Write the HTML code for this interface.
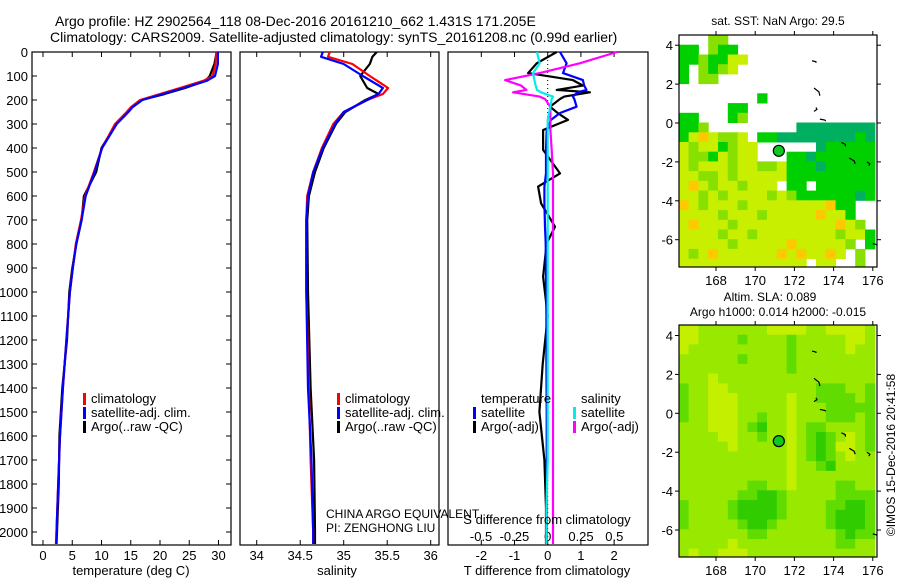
<!DOCTYPE html>
<html><head><meta charset="utf-8"><style>
body{margin:0;background:#fff;}
svg{display:block;font-family:"Liberation Sans",Arial,sans-serif;}
</style></head><body>
<svg id="fig" width="900" height="580" viewBox="0 0 900 580" xmlns="http://www.w3.org/2000/svg">
<rect width="900" height="580" fill="#fff"/>
<text x="55" y="26" font-size="14">Argo profile: HZ 2902564_118 08-Dec-2016 20161210_662 1.431S 171.205E</text>
<text x="50" y="42" font-size="14">Climatology: CARS2009. Satellite-adjusted climatology: synTS_20161208.nc (0.99d earlier)</text>
<g id="g"></g>
</svg>
<script>
// ---- profile data ----
const depthT = [0,50,100,120,150,175,200,230,250,300,400,500,600,700,800,900,1000,1200,1400,1600,1800,2000,2050];
const tempClim = [29.6,29.5,29.0,27.4,23.4,20.0,16.6,15.0,14.3,12.3,10.1,8.7,7.2,6.5,5.6,5.1,4.6,4.0,3.4,2.9,2.6,2.3,2.2];
const tempSat  = [29.9,29.9,29.4,28.0,24.0,20.5,17.0,15.3,14.6,12.6,10.1,8.8,7.3,6.6,5.7,5.1,4.6,4.0,3.4,2.9,2.6,2.3,2.3];
const tempArgo = [29.7,29.3,28.5,27.8,24.3,20.8,16.8,15.1,14.5,12.5,10.0,9.1,7.0,6.6,5.7,5.0,4.5,4.1,3.3,2.8,2.7,2.4,2.3];
const depthS = [0,20,50,100,150,175,200,250,300,400,500,600,700,1000,1400,1700,2000,2050];
const salClim = [34.84,34.82,35.1,35.3,35.51,35.45,35.27,35.0,34.88,34.75,34.65,34.58,34.57,34.57,34.6,34.62,34.65,34.65];
const salSat  = [34.76,34.74,35.0,35.22,35.45,35.4,35.27,35.0,34.9,34.76,34.65,34.59,34.57,34.57,34.59,34.63,34.65,34.65];
const salArgo = [35.38,35.33,35.3,35.19,35.27,35.4,35.25,35.02,34.91,34.77,34.67,34.6,34.58,34.59,34.62,34.66,34.67,34.67];
const depthD = [0,47,88,117,140,158,168,186,196,228,254,283,325,408,506,561,631,728,797,936,1100,1300,1500,1700,1900,2050];
const dTsat  = [0.37,0.57,0.46,1.06,1.1,1.17,0.9,0.76,0.8,0.87,0.37,0.1,-0.03,-0.05,-0.05,-0.1,-0.1,-0.08,-0.06,-0.05,-0.04,-0.04,-0.03,-0.03,-0.03,-0.03];
const dTargo = [0.27,-0.33,-0.59,0.76,1.06,0.27,1.27,0.5,0.37,0.07,0.3,0.61,-0.14,-0.14,0.37,-0.29,-0.2,0.22,-0.03,-0.14,0.0,-0.15,-0.25,-0.1,-0.05,-0.05];
const dSsat  = [-0.08,-0.06,-0.11,-0.1,-0.09,-0.08,-0.05,0.04,0.03,0.02,0.01,0.0,0.0,0.0,0.0,0.0,0.0,0.0,0.0,0.0,0.0,0.0,0.0,0.0,-0.01,-0.01];
const dSargo = [0.52,0.24,-0.06,-0.32,-0.2,-0.16,-0.26,-0.06,-0.02,0.02,0.02,0.02,0.02,0.03,0.04,0.04,0.04,0.04,0.04,0.04,0.04,0.04,0.04,0.04,0.04,0.04];
const depthTicks = [0,100,200,300,400,500,600,700,800,900,1000,1100,1200,1300,1400,1500,1600,1700,1800,1900,2000];
const tempTicks = [0,5,10,15,20,25,30];
const salTicks = [34,34.5,35,35.5,36];
const tdTicks = [-2,-1,0,1,2];
const sdTicks = [-0.5,-0.25,0,0.25,0.5];
// ---- map data ----
const latTicks = [4,2,0,-2,-4,-6];
const lonTicks = [168,170,172,174,176];
const sstGrid = [
"...ll...............","gg.lgg..............","gglggyy.............","g.lgly..............","g.ll................",
"....................","........g...........",".....gg.............","gg...gl.............","ggl.........tttttttt",
"gyoylly.ggttttttttgt","ylyyglyy......tggggg","yllgylyy...ggtgggggg","ylyyylyyllygggtggggg","yyllylyyyyyggggggggg",
"yoylyylyyy.gg.gggggg","yylylyyyylylggggggtg","oylyyylyyyyyyyyogg..","yyyylyyylyyyyyoyyg..","yoyyylyyyyyyyyyyoyl.",
"yyyylyylyyyyyyyylyyg","yyyyylyyyyyoyyyyyl.g","ylyoyyyyyyoyoyyoy.l.","yyyyyyyyyyyyy.yy..l."];
const slaGrid = [
"aabbbbbbbaaaabbaaaab","aabbbbcbbbbcbbbbbaab","abbbbbbbbbbcbbbbbabb","bbbbbbcbbbbcbbbbbbbb","bbbbbbbbbbbcbbbbbbbb",
"bbbabbbbbbbbbbbbbbbb","cbbaabbbbbbbbbcccbbc","cbbaaabbbbbabbccccbc","cbbaaabbbbbabbbccccc","cbbaaabbcbbabbbcccbc",
"bbbaaabcdbbabccbbbbc","bbbbaabbcbbabcdcbabc","bbbbbabbbbbabcdcaabc","bbbbbbbbbbbabcdcbabb","bbbbbbbbbbbabbcdbbbb",
"bbbbbbbbbbbabbbbbbbb","bbbbbbbccbbabbbbccbb","bbbbbbccddcbbbbbcccc","cbbbbcddddcbbbbccddc","cbbbbcddddcbbbbcdddc",
"cbbbbbcddcbbbbbcdddc","bbbbbbbccbbbbbbbcdcc","bbbbbabbbbbbbbbbccbb","babbaaabbbbbbbbbbbbb"];
const argoLon = 171.205, argoLat = -1.431;

const NS="http://www.w3.org/2000/svg";
const G=document.getElementById('g');
function mk(tag,attrs,parent){const e=document.createElementNS(NS,tag);for(const k in attrs)e.setAttribute(k,attrs[k]);(parent||G).appendChild(e);return e;}
function txt(x,y,s,size,anchor,parent){const t=mk('text',{x:x,y:y,'font-size':size||13,'text-anchor':anchor||'start'},parent);t.textContent=s;return t;}

const TOP=52,BOT=545;
const yD=d=>TOP+d*0.24;
const xT=v=>43+v*5.85;
const xS=v=>256.7+(v-34)*87;
const xTd=v=>547.7+v*33.2;
const xSd=v=>547.7+v*133.2;

function panel(name,L,R){
  const r=mk('rect',{x:L,y:TOP,width:R-L,height:BOT-TOP,fill:'none',stroke:'#000','stroke-width':1.2});
  
  
}
function line(name,xs,ds,xf,color){
  const p=xs.map((v,i)=>xf(v).toFixed(1)+','+yD(ds[i]).toFixed(1)).join(' ');
  const e=mk('polyline',{points:p,fill:'none',stroke:color,'stroke-width':2.2,'stroke-linejoin':'round'});
  
  
}
function xticks(ticks,f,y,labelY,fmt){
  ticks.forEach(t=>{const x=f(t);
    mk('line',{x1:x,x2:x,y1:TOP,y2:TOP+5,stroke:'#000'});
    mk('line',{x1:x,x2:x,y1:BOT,y2:BOT-5,stroke:'#000'});
    const l=txt(x,labelY,fmt?fmt(t):String(t),13,'middle');
    
    
  });
}
function legend(x,y,items){
  items.forEach((it,i)=>{
    mk('rect',{x:x,y:y+i*14-10,width:3,height:12,fill:it[1]});
    const l=txt(x+8,y+i*14,it[0],13);
    
    
  });
}

// Panel 1 temperature
panel('temperature-panel',32,231);
depthTicks.forEach(d=>{const y=yD(d);
  mk('line',{x1:32,x2:37,y1:y,y2:y,stroke:'#000'});
  mk('line',{x1:231,x2:226,y1:y,y2:y,stroke:'#000'});
  const l=txt(28,y+5,String(d),13,'end');
  
  
});
xticks(tempTicks,xT,BOT,560);
line('temp-argo',tempArgo,depthT,xT,'#000');
line('temp-climatology',tempClim,depthT,xT,'#f00');
line('temp-satellite-adj',tempSat,depthT,xT,'#00f');
legend(83,403,[['climatology','#f00'],['satellite-adj. clim.','#00f'],['Argo(..raw -QC)','#000']]);
let t=txt(131,575,'temperature (deg C)',13,'middle');

// Panel 2 salinity
panel('salinity-panel',240,439);
xticks(salTicks,xS,BOT,560);
line('sal-argo',salArgo,depthS,xS,'#000');
line('sal-climatology',salClim,depthS,xS,'#f00');
line('sal-satellite-adj',salSat,depthS,xS,'#00f');
legend(337,403,[['climatology','#f00'],['satellite-adj. clim.','#00f'],['Argo(..raw -QC)','#000']]);
t=txt(337,575,'salinity',13,'middle');
t=txt(326,518,'CHINA ARGO EQUIVALENT',12);
t=txt(326,532,'PI: ZENGHONG LIU',12);

// Panel 3 differences
panel('difference-panel',448,648);
mk('line',{x1:xTd(0),x2:xTd(0),y1:TOP,y2:BOT,stroke:'#000','stroke-dasharray':'1,3'});
xticks(tdTicks,xTd,BOT,560);
sdTicks.forEach(s=>{const l=txt(xSd(s),541,String(s),13,'middle');});
line('t-diff-argo',dTargo,depthD,xTd,'#000');
line('t-diff-satellite',dTsat,depthD,xTd,'#00f');
line('s-diff-argo',dSargo,depthD,xSd,'#f0f');
line('s-diff-satellite',dSsat,depthD,xSd,'#0ee');
t=txt(481,403,'temperature',13);
t=txt(581,403,'salinity',13);
legend(473,417,[['satellite','#00f'],['Argo(-adj)','#000']]);
legend(573,417,[['satellite','#0ee'],['Argo(-adj)','#f0f']]);
t=txt(547,524,'S difference from climatology',13,'middle');
t=txt(547,575,'T difference from climatology',13,'middle');

// Maps
const SST_COL={g:'#00d000',l:'#88e000',y:'#c8ee00',t:'#00b060',o:'#ffc800'};
const SLA_COL={a:'#c4f000',b:'#99e800',c:'#60dc00',d:'#30cc00'};
function map(name,top,grid,cols,latZero){
  const L=679,R=877,B=top+232;
  const xL=lon=>716+(lon-168)*19.6;
  const yL=lat=>latZero-lat*19.45;
  const g=mk('g',{});
  
  
  const lon0=166.1, lat0=(latZero-top)/19.45;
  grid.forEach((row,r)=>{[...row].forEach((c,ci)=>{
    if(c==='.')return;
    const x=xL(lon0+ci*0.5), y=yL(lat0-r*0.5);
    const cell=mk('rect',{x:x.toFixed(1),y:y.toFixed(1),width:10.3,height:10.2,fill:cols[c]},g);
  });});
  mk('rect',{x:R,y:top,width:23,height:240,fill:'#fff'},g);
  mk('rect',{x:L-10,y:B,width:210,height:12,fill:'#fff'},g);
  // coastlines
  [[172.9,3.2,173.1,3.1],[173.0,1.8,173.3,1.4],[173.1,0.8,173.0,0.6],[173.3,0.2,173.6,0.1],[174.4,-1.0,174.6,-1.2],[174.8,-1.8,175.1,-2.1],[175.7,-2.0,175.8,-2.2],[176.0,-6.2,176.2,-6.3]].forEach(c=>{
    mk('polyline',{points:xL(c[0])+','+yL(c[1])+' '+xL((c[0]+c[2])/2+0.1)+','+yL((c[1]+c[3])/2)+' '+xL(c[2])+','+yL(c[3]),fill:'none',stroke:'#000','stroke-width':1.2},g);
  });
  const m=mk('circle',{cx:xL(argoLon),cy:yL(argoLat),r:5.5,fill:'#10c820',stroke:'#000','stroke-width':1.2});
  
  
  mk('rect',{x:L,y:top,width:R-L,height:B-top,fill:'none',stroke:'#000','stroke-width':1.2});
  latTicks.forEach(la=>{const y=yL(la);
    mk('line',{x1:L,x2:L-4,y1:y,y2:y,stroke:'#000'});
    mk('line',{x1:R,x2:R+4,y1:y,y2:y,stroke:'#000'});
    const l=txt(673,y+5,String(la),13,'end');
    
    
  });
  lonTicks.forEach(lo=>{const x=xL(lo);
    mk('line',{x1:x,x2:x,y1:top,y2:top-4,stroke:'#000'});
    mk('line',{x1:x,x2:x,y1:B,y2:B+4,stroke:'#000'});
    const l=txt(x,B+18,String(lo),13,'middle');
    
    
  });
}
map('sst-map',35,sstGrid,SST_COL,123);
map('sla-map',325,slaGrid,SLA_COL,413.3);
t=txt(778,25,'sat. SST: NaN Argo: 29.5',12,'middle');
t=txt(770,301,'Altim. SLA: 0.089',12,'middle');
t=txt(778,316,'Argo h1000: 0.014 h2000: -0.015',12,'middle');
t=txt(0,0,'©IMOS 15-Dec-2016 20:41:58',12,'middle');
t.setAttribute('transform','translate(895,455) rotate(-90)');


</script>
</body></html>
